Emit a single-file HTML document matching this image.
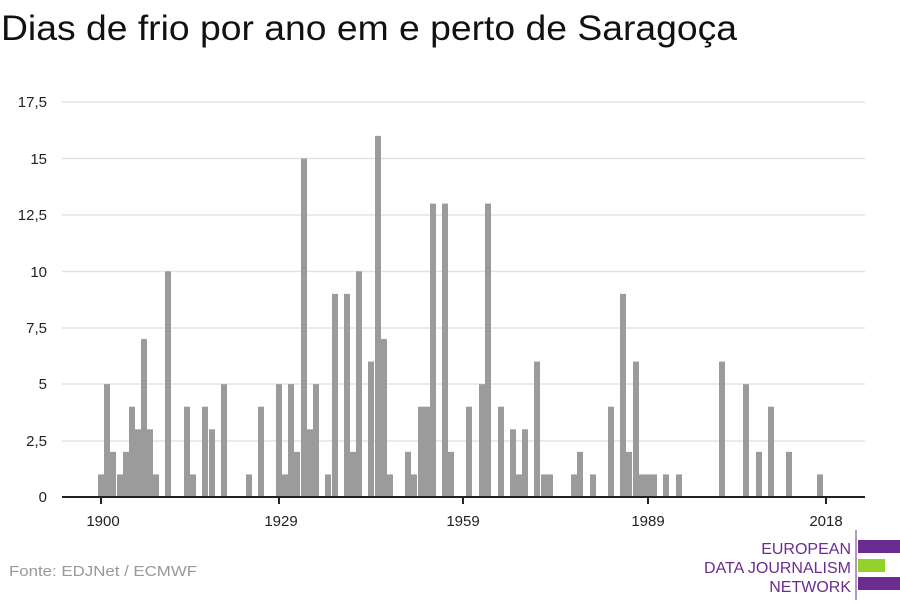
<!DOCTYPE html>
<html><head><meta charset="utf-8"><style>
body{margin:0;background:#fff;width:900px;height:600px;overflow:hidden;font-family:"Liberation Sans",sans-serif}
</style></head><body>
<svg width="900" height="600" xmlns="http://www.w3.org/2000/svg" font-family="Liberation Sans, sans-serif">
<text x="1" y="40" font-size="35" fill="#111" textLength="736" lengthAdjust="spacingAndGlyphs">Dias de frio por ano em e perto de Saragoça</text>
<g stroke="#e3e3e3" stroke-width="1.5">
<line x1="62" x2="865" y1="102" y2="102"/><line x1="62" x2="865" y1="158.5" y2="158.5"/>
<line x1="62" x2="865" y1="215" y2="215"/><line x1="62" x2="865" y1="271.5" y2="271.5"/>
<line x1="62" x2="865" y1="328" y2="328"/><line x1="62" x2="865" y1="384" y2="384"/>
<line x1="62" x2="865" y1="441" y2="441"/>
</g>
<g font-size="15" fill="#222" text-anchor="end">
<text x="47" y="107">17,5</text><text x="47" y="164">15</text><text x="47" y="220">12,5</text>
<text x="47" y="277">10</text><text x="47" y="333">7,5</text><text x="47" y="389">5</text>
<text x="47" y="446">2,5</text><text x="47" y="502">0</text>
</g>
<g id="bars" fill="#9b9b9b"></g>
<line x1="62" x2="865" y1="497" y2="497" stroke="#222" stroke-width="2"/>
<g stroke="#222" stroke-width="2">
<line x1="101" x2="101" y1="497" y2="504"/><line x1="279" x2="279" y1="497" y2="504"/>
<line x1="463" x2="463" y1="497" y2="504"/><line x1="648" x2="648" y1="497" y2="504"/>
<line x1="826" x2="826" y1="497" y2="504"/>
</g>
<g font-size="15" fill="#222" text-anchor="middle">
<text x="103" y="526">1900</text><text x="281" y="526">1929</text><text x="463" y="526">1959</text>
<text x="648" y="526">1989</text><text x="826" y="526">2018</text>
</g>
<text x="9" y="576" font-size="15" fill="#999" textLength="188" lengthAdjust="spacingAndGlyphs">Fonte: EDJNet / ECMWF</text>
<g font-size="16" fill="#6a2c91" text-anchor="end">
<text x="851" y="554">EUROPEAN</text><text x="851" y="573">DATA JOURNALISM</text><text x="851" y="592">NETWORK</text>
</g>
<line x1="856" x2="856" y1="530" y2="600" stroke="#6a2c91" stroke-width="1"/>
<rect x="858" y="540" width="42" height="13" fill="#6a2c91"/>
<rect x="858" y="559" width="27" height="13" fill="#95d12a"/>
<rect x="858" y="577" width="42" height="13" fill="#6a2c91"/>
</svg>
<script>
var d=[[100,1],[106,5],[112,2],[119,1],[125,2],[131,4],[137,3],[143,7],[149,3],[155,1],[167,10],[186,4],[192,1],[204,4],[211,3],[223,5],[248,1],[260,4],[278,5],[284,1],[290,5],[296,2],[303,15],[309,3],[315,5],[327,1],[334,9],[346,9],[352,2],[358,10],[370,6],[377,16],[383,7],[389,1],[407,2],[413,1],[420,4],[426,4],[432,13],[444,13],[450,2],[468,4],[481,5],[487,13],[500,4],[512,3],[518,1],[524,3],[536,6],[543,1],[549,1],[573,1],[579,2],[592,1],[610,4],[622,9],[628,2],[635,6],[641,1],[647,1],[653,1],[665,1],[678,1],[721,6],[745,5],[758,2],[770,4],[788,2],[819,1]];
var g=document.getElementById('bars'),s='';
d.forEach(function(b){var h=b[1]*22.57;s+='<rect x="'+(b[0]-2)+'" y="'+(497-h)+'" width="6" height="'+h+'"/>';});
g.innerHTML=s;
</script>
</body></html>
